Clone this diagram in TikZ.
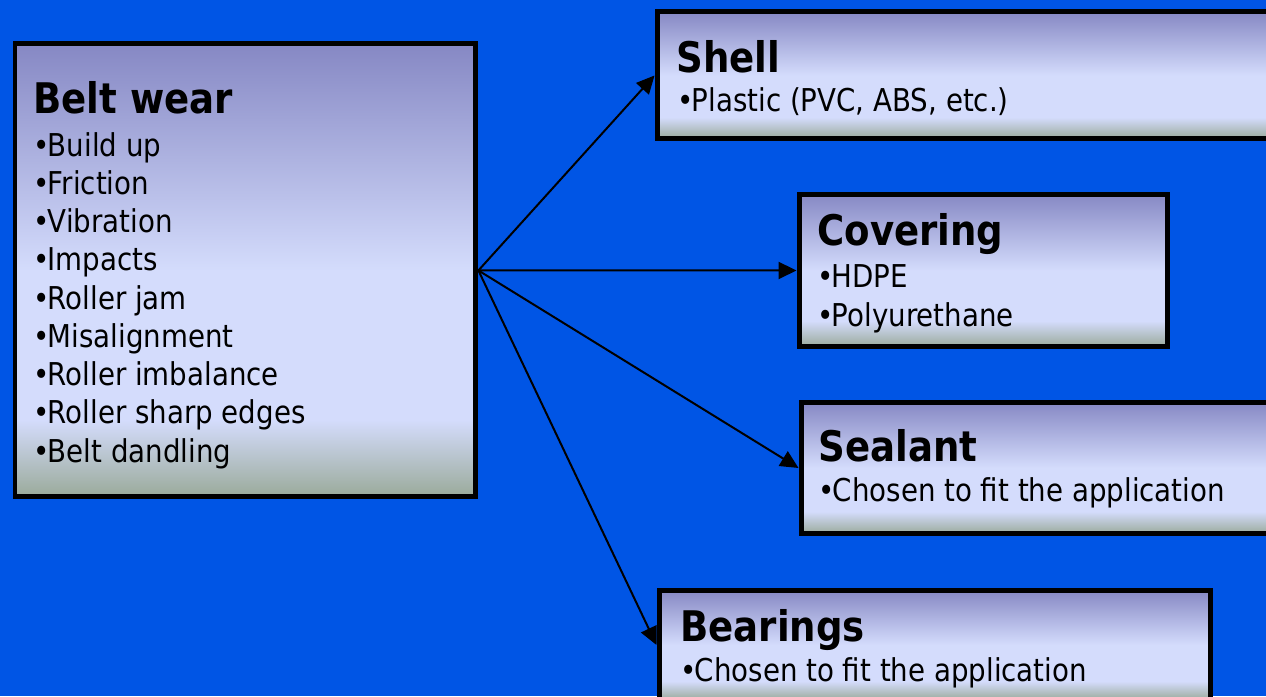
\documentclass[tikz,border=0pt]{standalone}
\usepackage{fontspec}
\setmainfont{DejaVu Sans}[FakeStretch=0.88]
\usetikzlibrary{arrows.meta}

\definecolor{slideblue}{RGB}{0,85,229}
\definecolor{panelTop}{RGB}{134,136,196}
\definecolor{panelMid}{RGB}{212,220,252}
\definecolor{panelBot}{RGB}{154,170,154}
\pgfdeclareverticalshading{panelshade}{100bp}{color(0bp)=(panelBot); color(25bp)=(panelBot);
    color(33.5bp)=(panelMid); color(50bp)=(panelMid); color(75bp)=(panelTop); color(100bp)=(panelTop)}

\newcommand{\headfont}{\fontsize{24}{28}\selectfont\bfseries}
\newcommand{\listfont}{\fontsize{17.9}{21.77}\selectfont}
\newcommand{\bul}{•\kern-0.06em}

\begin{document}
\begin{tikzpicture}[x=0.02cm, y=-0.02cm]
        % Define styles
        \tikzstyle{panel} = [rectangle, draw=black, line width=0.1cm, shading=panelshade,
            anchor=north west, inner sep=0pt]
        \tikzstyle{head} = [anchor=base west, inner sep=0pt, font=\headfont]
        \tikzstyle{items} = [anchor=base west, inner sep=0pt, align=left, font=\listfont]
        \tikzstyle{link} = [line width=0.04cm, -{Triangle[length=0.36cm, width=0.34cm]}]

        % Slide background
        \clip (0,0) rectangle (1266,696);
        \fill [slideblue] (0,0) rectangle (1266,696);

        % Boxes
        \node [panel, minimum width=9.22cm, minimum height=9.06cm] (wear) at (12.5,41.5) {};
        \node [panel, minimum width=13cm, minimum height=2.54cm] (shell) at (654.5,9.5) {};
        \node [panel, minimum width=7.38cm, minimum height=3.06cm] (cover) at (796.5,191.5) {};
        \node [panel, minimum width=10cm, minimum height=2.64cm] (seal) at (798.5,399.5) {};
        \node [panel, minimum width=11.04cm, minimum height=2.2cm] (bear) at (656.5,587.5) {};

        % Texts (base of a list = its last line)
        \node [head] (wearHead) at (33,113) {Belt wear};
        \node [items] (wearList) at (33,462) {\bul Build up\\\bul Friction\\\bul Vibration\\\bul Impacts\\
            \bul Roller jam\\\bul Misalignment\\\bul Roller imbalance\\\bul Roller sharp edges\\\bul Belt dandling};
        \node [head] (shellHead) at (676,72) {Shell};
        \node [items] (shellList) at (677,112) {\bul Plastic (PVC, ABS, etc.)};
        \node [head] (coverHead) at (817,245) {Covering};
        \node [items] (coverList) at (817,326) {\bul HDPE\\\bul Polyurethane};
        \node [head] (sealHead) at (818,461) {Sealant};
        \node [items] (sealList) at (818,501) {\bul Chosen to fit the application};
        \node [head] (bearHead) at (680,641) {Bearings};
        \node [items] (bearList) at (680,681) {\bul Chosen to fit the application};

        % Arrows
        \draw [link] (wear.east) -- (shell.west);
        \draw [link] (wear.east) -- (cover.west);
        \draw [link] (wear.east) -- (seal.west);
        \draw [link] (wear.east) -- (bear.west);

\end{tikzpicture}
\end{document}
